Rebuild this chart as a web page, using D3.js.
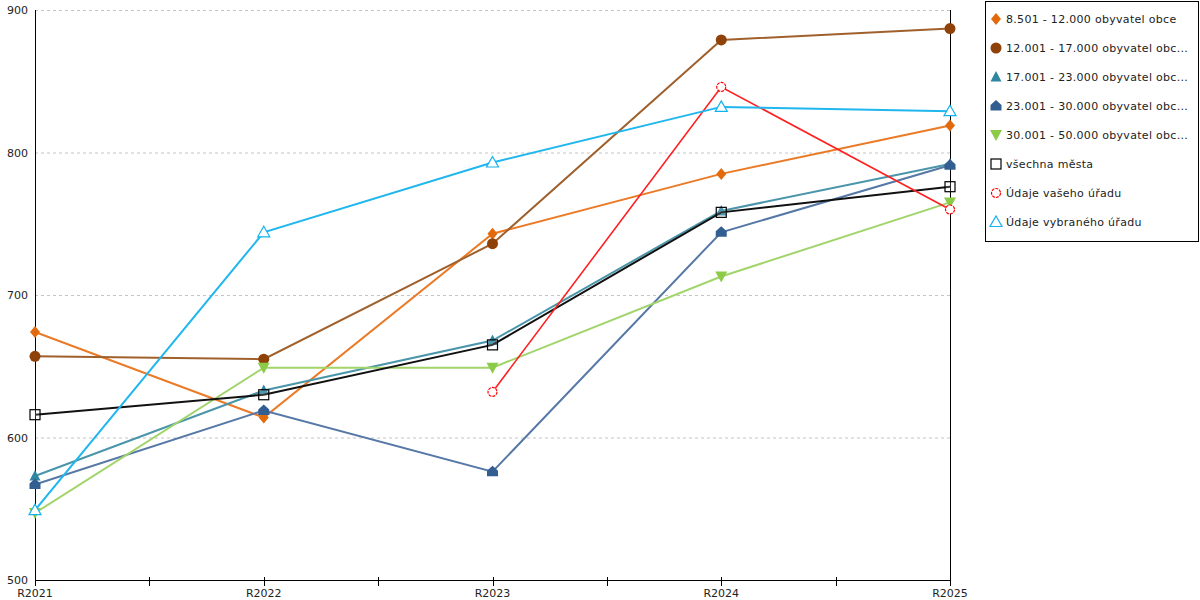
<!DOCTYPE html>
<html>
  <head>
    <meta charset="utf-8" />
    <script src="https://d3js.org/d3.v7.min.js"></script>
    <style>
      body { margin: 0; background: #fff; }
      text { font-family: "DejaVu Sans", sans-serif; font-size: 11px; fill: #222; }
      .legend text { letter-spacing: 0.3px; }
    </style>
  </head>
  <body>
    <script>
      // categories and values
      const years = ["R2021", "R2022", "R2023", "R2024", "R2025"];
      const seriesNames = [
        "8.501 - 12.000 obyvatel obce",
        "12.001 - 17.000 obyvatel obc...",
        "17.001 - 23.000 obyvatel obc...",
        "23.001 - 30.000 obyvatel obc...",
        "30.001 - 50.000 obyvatel obc...",
        "všechna města",
        "Údaje vašeho úřadu",
        "Údaje vybraného úřadu"
      ];
      const pop8501 = [674, 614, 743, 785, 819];
      const pop12001 = [657, 655, 736, 879, 887];
      const pop17001 = [573, 633, 668, 759, 792];
      const pop23001 = [567, 619, 576, 744, 791];
      const pop30001 = [547, 649, 649, 713, 765];
      const allCities = [616, 630, 665, 758, 776];
      const yourOffice = [null, null, 632, 846, 760];
      const chosenOffice = [549, 744, 793, 832, 829];
      const yTicks = [500, 600, 700, 800, 900];

      const allValues = [pop8501, pop12001, pop17001, pop23001, pop30001, allCities, yourOffice, chosenOffice];

      const lineColors = ["#EB7A26", "#A0602C", "#4A95AA", "#5678A6", "#A2D46C", "#111111", "#FF2020", "#20B6EE"];
      const markColors = ["#E26A0C", "#8E4208", "#2E86A0", "#335E92", "#8CCB48", "#000000", "#FF0000", "#14B2EE"];
      const symbols = ["diamond", "circle", "triangle", "house", "down", "square", "ocircle", "otriangle"];

      const width = 1200, height = 600;
      const svg = d3.select("body").append("svg")
        .attr("width", width)
        .attr("height", height);

      const x = d3.scalePoint().domain(years).range([35, 950]);
      const y = d3.scaleLinear().domain([500, 900]).range([580, 10]);

      // grid lines
      svg.append("g").selectAll("line")
        .data(yTicks.filter(d => d > 500))
        .join("line")
        .attr("x1", 35).attr("x2", 950)
        .attr("y1", d => y(d) + 0.5).attr("y2", d => y(d) + 0.5)
        .attr("stroke", "#c4c4c4")
        .attr("stroke-dasharray", "3,3");

      // y labels
      svg.append("g").selectAll("text")
        .data(yTicks)
        .join("text")
        .attr("x", 28)
        .attr("y", d => y(d) + 4)
        .attr("text-anchor", "end")
        .text(d => d);

      // axes lines
      svg.append("line").attr("x1", 35.5).attr("x2", 35.5).attr("y1", 10).attr("y2", 580).attr("stroke", "#000");
      svg.append("line").attr("x1", 950.5).attr("x2", 950.5).attr("y1", 10).attr("y2", 580).attr("stroke", "#000");
      svg.append("line").attr("x1", 35).attr("x2", 951).attr("y1", 580.5).attr("y2", 580.5).attr("stroke", "#000");

      // ticks at categories and between them
      const tickXs = [];
      years.forEach((yr, i) => {
        tickXs.push(x(yr));
        if (i < years.length - 1) tickXs.push((x(yr) + x(years[i + 1])) / 2);
      });
      svg.append("g").selectAll("line")
        .data(tickXs)
        .join("line")
        .attr("x1", d => Math.round(d) + 0.5).attr("x2", d => Math.round(d) + 0.5)
        .attr("y1", 577).attr("y2", 586)
        .attr("stroke", "#000");

      svg.append("g").selectAll("text")
        .data(years)
        .join("text")
        .attr("x", d => x(d))
        .attr("y", 597)
        .attr("text-anchor", "middle")
        .text(d => d);

      function drawSymbol(g, type, cx, cy, color) {
        if (type === "diamond") {
          g.append("path").attr("d", `M${cx},${cy - 6}L${cx + 5},${cy}L${cx},${cy + 6}L${cx - 5},${cy}Z`).attr("fill", color);
        } else if (type === "circle") {
          g.append("circle").attr("cx", cx).attr("cy", cy).attr("r", 5.5).attr("fill", color);
        } else if (type === "triangle") {
          g.append("path").attr("d", `M${cx},${cy - 6}L${cx + 5.5},${cy + 4.5}L${cx - 5.5},${cy + 4.5}Z`).attr("fill", color);
        } else if (type === "house") {
          g.append("path").attr("d", `M${cx},${cy - 6}L${cx + 5.5},${cy - 1}L${cx + 5.5},${cy + 4.5}L${cx - 5.5},${cy + 4.5}L${cx - 5.5},${cy - 1}Z`).attr("fill", color);
        } else if (type === "down") {
          g.append("path").attr("d", `M${cx - 6},${cy - 5}L${cx + 6},${cy - 5}L${cx},${cy + 6}Z`).attr("fill", color);
        } else if (type === "square") {
          g.append("rect").attr("x", cx - 5).attr("y", cy - 5).attr("width", 10).attr("height", 10)
            .attr("fill", "#fff").attr("stroke", color).attr("stroke-width", 1.2).attr("fill-opacity", 0.15);
        } else if (type === "ocircle") {
          g.append("circle").attr("cx", cx).attr("cy", cy).attr("r", 4.5)
            .attr("fill", "#fff").attr("stroke", color).attr("stroke-width", 1.2).attr("stroke-dasharray", "3,1");
        } else if (type === "otriangle") {
          g.append("path").attr("d", `M${cx},${cy - 6}L${cx + 6},${cy + 4.5}L${cx - 6},${cy + 4.5}Z`)
            .attr("fill", "#fff").attr("stroke", color).attr("stroke-width", 1.2);
        }
      }

      const line = d3.line()
        .defined(d => d != null)
        .x((d, i) => x(years[i]))
        .y(d => y(d));

      allValues.forEach((vals, s) => {
        const g = svg.append("g");
        g.append("path")
          .attr("d", line(vals))
          .attr("fill", "none")
          .attr("stroke", lineColors[s])
          .attr("stroke-width", s === 6 ? 1.6 : 2);
        vals.forEach((v, i) => {
          if (v == null) return;
          drawSymbol(g, symbols[s], x(years[i]), y(v), markColors[s]);
        });
      });

      // legend
      const legend = svg.append("g").attr("class", "legend");
      legend.append("rect")
        .attr("x", 985.5).attr("y", 1.5)
        .attr("width", 213).attr("height", 240)
        .attr("fill", "#fff").attr("stroke", "#000");
      seriesNames.forEach((name, i) => {
        const ly = 19 + i * 29;
        drawSymbol(legend, symbols[i], 996, ly, markColors[i]);
        legend.append("text").attr("x", 1006).attr("y", ly + 4).text(name);
      });
    </script>
  </body>
</html>
